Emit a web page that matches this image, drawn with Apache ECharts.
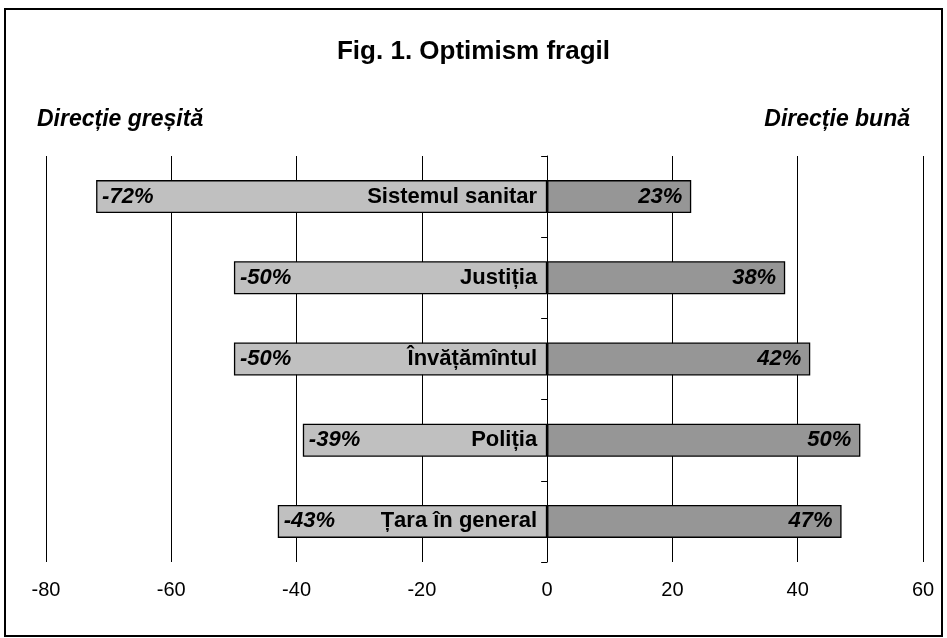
<!DOCTYPE html>
<html>
<head>
<meta charset="utf-8">
<script src="https://cdn.jsdelivr.net/npm/echarts@6/dist/echarts.min.js"></script>
<style>
html,body{margin:0;padding:0;background:#fff;}
#c{width:947px;height:638px;}
</style>
</head>
<body>
<div id="c"></div>
<script>
var categories = ['Sistemul sanitar', 'Justiția', 'Învățămîntul', 'Poliția', 'Țara în general'];
var wrongDirection = [-72, -50, -50, -39, -43];
var goodDirection = [23, 38, 42, 50, 47];
var xTicks = { min: -80, max: 60, step: 20 };

var FONT = '"Liberation Sans", Arial, sans-serif';
var chart = echarts.init(document.getElementById('c'), null, { renderer: 'canvas' });

var option = {
  animation: false,
  backgroundColor: '#fff',
  title: {
    text: 'Fig. 1. Optimism fragil',
    left: 'center',
    top: 34,
    textStyle: { fontFamily: FONT, fontWeight: 'bold', fontSize: 26, color: '#000' }
  },
  graphic: [
    { type: 'rect', shape: { x: 5, y: 9, width: 937, height: 627 }, style: { fill: 'none', stroke: '#000', lineWidth: 2 }, silent: true },
    { type: 'text', left: 37, top: 108, style: { text: 'Direcție greșită', font: 'italic bold 23px ' + FONT, fill: '#000' } },
    { type: 'text', right: 37, top: 108, style: { text: 'Direcție bună', font: 'italic bold 23px ' + FONT, fill: '#000' } }
  ],
  grid: { left: 46, right: 24, top: 156, bottom: 76, containLabel: false },
  xAxis: {
    type: 'value',
    min: xTicks.min, max: xTicks.max, interval: xTicks.step,
    axisLine: { show: false },
    axisTick: { show: false },
    splitLine: { show: true, lineStyle: { color: '#000', width: 1 } },
    axisLabel: { fontFamily: FONT, fontSize: 20, color: '#000', margin: 18 }
  },
  yAxis: {
    type: 'category',
    data: categories,
    inverse: true,
    axisLine: { show: true, onZero: true, lineStyle: { color: '#000', width: 1 } },
    axisTick: { show: true, length: 6, lineStyle: { color: '#000' } },
    axisLabel: { show: false },
    splitLine: { show: false }
  },
  series: [
    {
      name: 'Direcție greșită',
      type: 'bar',
      data: wrongDirection,
      barWidth: 33,
      barGap: '-100%',
      itemStyle: { color: '#C0C0C0', borderColor: '#000', borderWidth: 1.3 },
      label: {
        show: true, position: 'insideLeft', distance: 6,
        formatter: function (p) { return p.value + '%'; },
        fontFamily: FONT, fontWeight: 'bold', fontStyle: 'italic', fontSize: 22, color: '#000'
      },
      z: 2
    },
    {
      name: 'Direcție bună',
      type: 'bar',
      data: goodDirection,
      barWidth: 33,
      barGap: '-100%',
      itemStyle: { color: '#969696', borderColor: '#000', borderWidth: 1.3 },
      label: {
        show: true, position: 'insideRight', distance: 9,
        formatter: function (p) { return p.value + '%'; },
        fontFamily: FONT, fontWeight: 'bold', fontStyle: 'italic', fontSize: 22, color: '#000'
      },
      z: 2
    },
    {
      name: 'names',
      type: 'bar',
      data: wrongDirection,
      barWidth: 33,
      barGap: '-100%',
      itemStyle: { color: 'rgba(0,0,0,0)', borderWidth: 0 },
      label: {
        show: true, position: 'insideRight', distance: 10,
        formatter: function (p) { return p.name; },
        fontFamily: FONT, fontWeight: 'bold', fontSize: 22, color: '#000'
      },
      silent: true,
      z: 3
    }
  ]
};
chart.setOption(option);
</script>
</body>
</html>
